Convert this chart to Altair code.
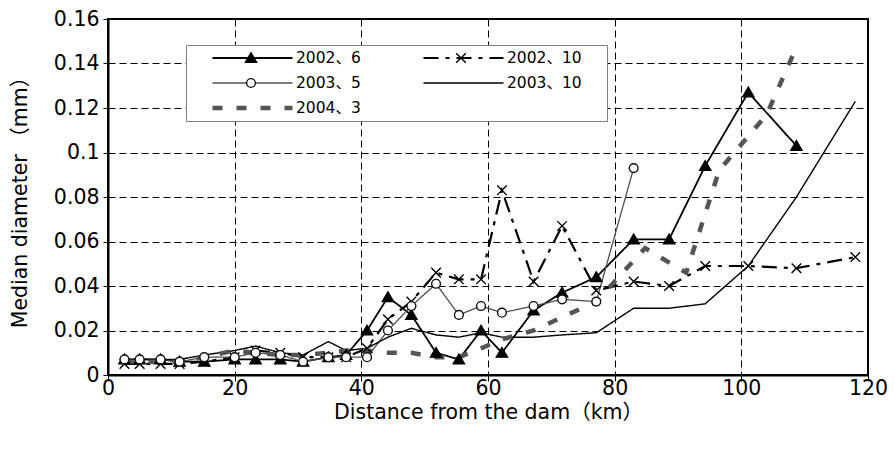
import altair as alt
import pandas as pd

series_names = ["2002、6", "2002、10", "2003、5", "2003、10", "2004、3"]

stations = [2.6, 5.0, 8.3, 11.3, 15.2, 20.0, 23.3, 27.2, 30.8, 34.8, 37.6, 40.9,
            44.2, 47.9, 51.8, 55.4, 58.9, 62.2, 67.2, 71.7, 77.1, 83.0, 88.6,
            94.3, 101.1, 108.7, 118.0]

x_2002_6 = stations[:26]
y_2002_6 = [0.007, 0.007, 0.007, 0.006, 0.006, 0.007, 0.007, 0.007, 0.006, 0.008,
            0.009, 0.020, 0.035, 0.027, 0.010, 0.007, 0.020, 0.010, 0.029, 0.037,
            0.044, 0.061, 0.061, 0.094, 0.127, 0.103]

x_2002_10 = stations
y_2002_10 = [0.005, 0.005, 0.005, 0.005, 0.006, 0.008, 0.011, 0.010, 0.008, 0.008,
             0.008, 0.012, 0.025, 0.033, 0.046, 0.043, 0.043, 0.083, 0.042, 0.067,
             0.038, 0.042, 0.040, 0.049, 0.049, 0.048, 0.053]

x_2003_5 = stations[:22]
y_2003_5 = [0.007, 0.007, 0.007, 0.006, 0.008, 0.008, 0.010, 0.009, 0.006, 0.008,
            0.008, 0.008, 0.020, 0.031, 0.041, 0.027, 0.031, 0.028, 0.031, 0.034,
            0.033, 0.093]

x_2003_10 = stations
y_2003_10 = [0.007, 0.007, 0.007, 0.007, 0.009, 0.011, 0.013, 0.010, 0.009, 0.015,
             0.011, 0.012, 0.017, 0.021, 0.018, 0.017, 0.019, 0.017, 0.017, 0.018,
             0.019, 0.030, 0.030, 0.032, 0.049, 0.080, 0.123]

x_2004_3 = stations[:21] + [84.8, 91.3, 96.5, 104.0, 108.8]
y_2004_3 = [0.006, 0.006, 0.006, 0.006, 0.008, 0.011, 0.010, 0.009, 0.009, 0.010,
            0.011, 0.011, 0.010, 0.010, 0.008, 0.008, 0.012, 0.016, 0.020, 0.026,
            0.033, 0.057, 0.046, 0.092, 0.117, 0.148]

x_ticks = [0, 20, 40, 60, 80, 100, 120]
y_ticks = [0, 0.02, 0.04, 0.06, 0.08, 0.1, 0.12, 0.14, 0.16]

series_data = [
    ("2002、6", x_2002_6, y_2002_6),
    ("2002、10", x_2002_10, y_2002_10),
    ("2003、5", x_2003_5, y_2003_5),
    ("2003、10", x_2003_10, y_2003_10),
    ("2004、3", x_2004_3, y_2004_3),
]
rows = []
for i, (name, xs, ys) in enumerate(series_data):
    for xv, yv in zip(xs, ys):
        rows.append({"series": name, "marker": name, "order": i, "x": xv, "y": yv})
df = pd.DataFrame(rows)

line_colors = ["#000000", "#000000", "#505050", "#000000", "#555555"]
line_dashes = [[1, 0], [15, 7, 4, 7], [1, 0], [1, 0], [10, 14]]
line_widths = [1.8, 2.2, 1.3, 1.4, 4.5]

tri = "M0,-0.13L0.14,0.11L-0.14,0.11Z"
circ = "M0.11,0A0.11,0.11,0,1,1,-0.11,0A0.11,0.11,0,1,1,0.11,0Z"
cross = "M-0.12,-0.12L0.12,0.12M-0.12,0.12L0.12,-0.12"
empty = "M0,0"
shapes = [tri, cross, circ, empty, empty]
fills = ["#000000", "transparent", "#ffffff", "transparent", "transparent"]
strokes = ["#000000", "#000000", "#111111", "transparent", "transparent"]

FONT = "DejaVu Sans, Noto Sans CJK SC"

common_leg = dict(
    orient="none", legendX=78, legendY=26, columns=2, direction="horizontal",
    title=None, symbolSize=6400, clipHeight=18, rowPadding=7,
    padding=4, symbolOffset=20, labelOffset=1, labelFont=FONT,
    labelFontSize=15.5, labelColor="#000000",
)
line_leg = alt.Legend(
    symbolType="stroke", fillColor="#ffffff", strokeColor="#808080", zindex=1,
    columnPadding=40,
    labelExpr="indexof(datum.label, '10') > 0 ? datum.label + '\u3000 \u200b' : datum.label",
    **common_leg)
pt_leg = alt.Legend(labelExpr="''", symbolStrokeWidth=1.4, zindex=2,
                    columnPadding=107, **common_leg)

order_sort = alt.EncodingSortField(field="order", op="min")

x_enc = alt.X("x:Q", scale=alt.Scale(domain=[0, 120], nice=False),
              axis=alt.Axis(values=x_ticks, title="Distance from the dam（km）",
                            tickSize=6, labelPadding=-3, titlePadding=4,
                            labelFlush=False))
y_enc = alt.Y("y:Q", scale=alt.Scale(domain=[0, 0.16], nice=False),
              axis=alt.Axis(values=y_ticks, format="~g",
                            title="Median diameter （mm）",
                            tickSize=5, labelPadding=4, titleX=-78,
                            labelFlush=False))

base = alt.Chart(df)

lines = base.mark_line().encode(
    x=x_enc,
    y=y_enc,
    color=alt.Color("series:N", sort=order_sort,
                    scale=alt.Scale(range=line_colors), legend=line_leg),
    strokeDash=alt.StrokeDash("series:N", sort=order_sort,
                              scale=alt.Scale(range=line_dashes), legend=line_leg),
    strokeWidth=alt.StrokeWidth("series:N", sort=order_sort,
                                scale=alt.Scale(type="ordinal", range=line_widths),
                                legend=line_leg),
)

points = base.mark_point(opacity=1, strokeWidth=1.4).encode(
    x="x:Q",
    y="y:Q",
    shape=alt.Shape("marker:N", scale=alt.Scale(domain=series_names, range=shapes),
                    legend=pt_leg),
    fill=alt.Fill("marker:N", scale=alt.Scale(domain=series_names, range=fills),
                  legend=pt_leg),
    stroke=alt.Stroke("marker:N", scale=alt.Scale(domain=series_names, range=strokes),
                      legend=pt_leg),
    size=alt.value(6400),
)

chart = alt.layer(lines, points).properties(
    width=760, height=356, background="#ffffff",
    autosize=alt.AutoSizeParams(type="none"),
    padding={"left": 100, "top": 11, "right": 19, "bottom": 60},
).configure_view(
    stroke="#000000", strokeWidth=2
).configure_axis(
    grid=True, gridColor="#000000", gridDash=[7, 4], gridWidth=1, gridOpacity=1,
    domainColor="#000000", domainWidth=2, tickColor="#000000", tickWidth=1,
    labelFont=FONT, labelFontSize=20.5, labelColor="#000000",
    titleFont=FONT, titleFontSize=20.5, titleFontWeight="normal", titleColor="#000000",
)

chart.save("out.html", embed_options={"renderer": "svg", "actions": False})
